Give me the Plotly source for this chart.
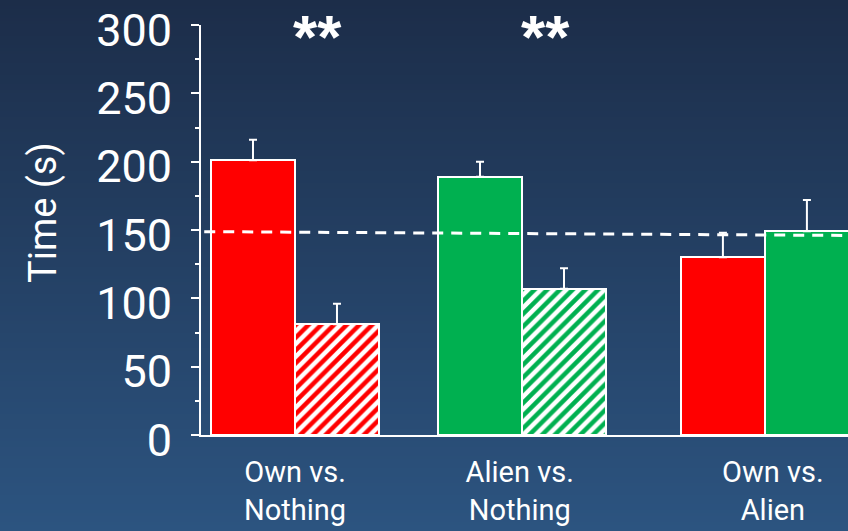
import plotly.graph_objects as go

# ---- data -------------------------------------------------------------
groups = ["Own vs.<br>Nothing", "Alien vs.<br>Nothing", "Own vs.<br>Alien"]
left_vals = [201, 189, 130]      # first bar of each pair
left_err = [15, 11, 18]
right_vals = [81, 107, 149]      # second bar of each pair
right_err = [15, 15, 23]
left_colors = ["#ff0000", "#00b050", "#ff0000"]
right_colors = ["#ff0000", "#00b050", "#00b050"]
right_hatched = [True, True, False]
significance = ["**", "**", ""]
chance_line = [148.8, 146.0]     # dashed reference line, start / end value
y_ticks = [0, 50, 100, 150, 200, 250, 300]
y_minor = [25, 75, 125, 175, 225, 275]

# ---- layout constants -------------------------------------------------
W, H = 848, 531
ML, MR, MT, MB = 201, 0, 25, 96
group_pos = [0.0, 1.0, 2.07]
bar_w = 0.37
x_range = [-0.414, 2.436]
label_pos = [0.0, 0.99, 2.105]
FONT = "Roboto"
STAR_FONT = "Liberation Sans"

fig = go.Figure()

for i, g in enumerate(groups):
    fig.add_trace(go.Bar(
        x=[group_pos[i] - bar_w / 2], y=[left_vals[i]], width=bar_w,
        marker=dict(color=left_colors[i], line=dict(color="white", width=2)),
        error_y=dict(type="data", symmetric=False, array=[left_err[i]],
                     arrayminus=[0], color="white", thickness=2, width=4),
        showlegend=False,
    ))
    if right_hatched[i]:
        marker = dict(color="white", line=dict(color="white", width=2),
                      pattern=dict(shape="/", fgcolor=right_colors[i],
                                   bgcolor="white", size=9, solidity=0.5,
                                   fillmode="replace"))
    else:
        marker = dict(color=right_colors[i], line=dict(color="white", width=2))
    fig.add_trace(go.Bar(
        x=[group_pos[i] + bar_w / 2], y=[right_vals[i]], width=bar_w,
        marker=marker,
        error_y=dict(type="data", symmetric=False, array=[right_err[i]],
                     arrayminus=[0], color="white", thickness=2, width=4),
        showlegend=False,
    ))

# vertical gradient background, drawn as thin bands across the whole paper
top_rgb = (28, 45, 73)
bot_rgb = (44, 84, 128)
n_bands = 177
plot_h = H - MT - MB
px0 = -ML / (W - ML - MR) - 0.01
shapes = []
for k in range(n_bands):
    t = k / (n_bands - 1)
    c = tuple(round(top_rgb[j] + (bot_rgb[j] - top_rgb[j]) * t) for j in range(3))
    py_top = k * H / n_bands - (0.6 if k == 0 else 0)
    py_bot = (k + 1) * H / n_bands + 0.6
    shapes.append(dict(
        type="rect", xref="paper", yref="paper", layer="below",
        x0=px0, x1=1.01,
        y0=(H - MB - py_bot) / plot_h, y1=(H - MB - py_top) / plot_h,
        fillcolor="rgb(%d,%d,%d)" % c, line=dict(width=0),
    ))

# dashed chance-level line
shapes.append(dict(
    type="line", xref="paper", yref="y", layer="above",
    x0=0.005, x1=1.0, y0=chance_line[0], y1=chance_line[1],
    line=dict(color="white", width=3, dash="11px,8px"),
))

annotations = []
for i, s in enumerate(significance):
    if s:
        annotations.append(dict(
            x=group_pos[i], xref="x", xshift=23,
            y=(H - MB - 0.5) / plot_h, yref="paper", yanchor="top",
            text="<b>%s</b>" % s, showarrow=False,
            font=dict(family=STAR_FONT, size=62, color="white"),
        ))

# y-axis title
annotations.append(dict(
    x=(43 - ML) / (W - ML - MR), xref="paper", xanchor="center",
    y=(H - MB - 213) / plot_h, yref="paper", yanchor="middle",
    text="Time (s)", textangle=-90, showarrow=False,
    font=dict(family=FONT, size=38, color="white"),
))

fig.update_layout(
    width=W, height=H,
    margin=dict(l=ML, r=MR, t=MT, b=MB, pad=0, autoexpand=False),
    paper_bgcolor="rgb(36,64,100)",
    plot_bgcolor="rgba(0,0,0,0)",
    barmode="overlay",
    bargap=0,
    shapes=shapes,
    annotations=annotations,
    font=dict(family=FONT, color="white"),
    xaxis=dict(
        range=x_range, showgrid=False, zeroline=False, automargin=False,
        showline=True, linecolor="white", linewidth=2,
        tickmode="array", tickvals=label_pos, ticktext=groups,
        ticks="", tickfont=dict(family=FONT, size=29, color="white"),
        ticklabelstandoff=10,
    ),
    yaxis=dict(
        range=[0, 300.001], showgrid=False, zeroline=False, automargin=False,
        showline=True, linecolor="white", linewidth=2,
        tickmode="array", tickvals=y_ticks,
        ticks="outside", ticklen=8, tickwidth=2, tickcolor="white",
        minor=dict(tickmode="array", tickvals=y_minor,
                   ticks="outside", ticklen=4, tickwidth=2, tickcolor="white"),
        tickfont=dict(family=FONT, size=45, color="white"),
        ticklabelstandoff=10, ticklabeloverflow="allow", ticklabelshift=5,
    ),
)

fig.write_html("out.html")
